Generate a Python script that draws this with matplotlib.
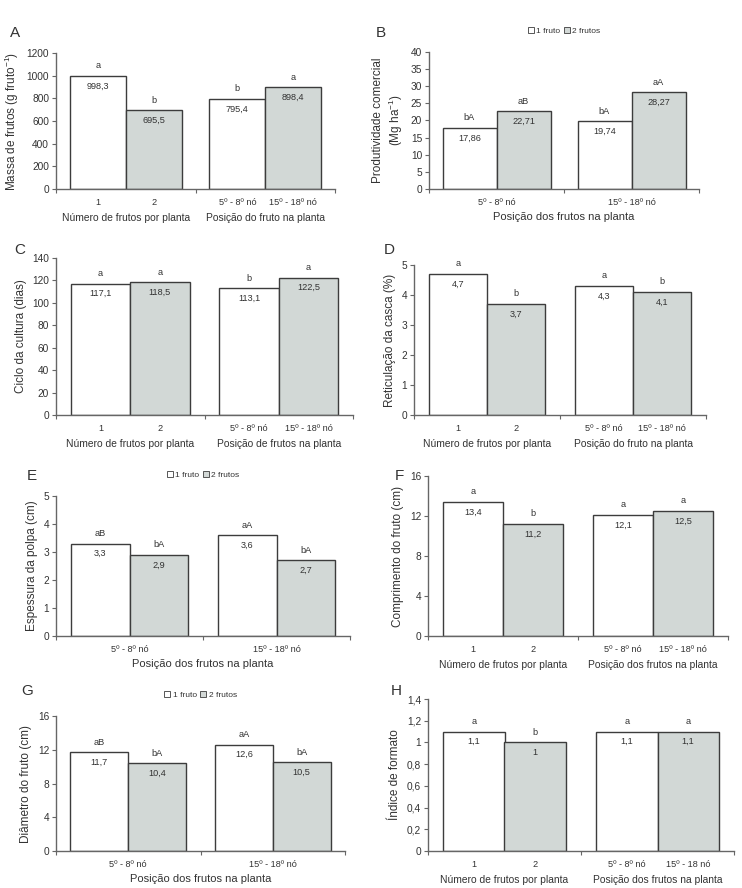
import matplotlib
matplotlib.use("Agg")
import matplotlib.pyplot as plt
from matplotlib.patches import Patch
from matplotlib.ticker import FuncFormatter

plt.rcParams['font.family'] = ['Liberation Sans', 'DejaVu Sans']
plt.rcParams['mathtext.fontset'] = 'custom'
plt.rcParams['mathtext.rm'] = 'Liberation Sans'
plt.rcParams['mathtext.it'] = 'Liberation Sans'

# data: order = group1 white, group1 grey, group2 white, group2 grey
vals_A = [998.3, 695.5, 795.4, 898.4]
lets_A = ['a', 'b', 'b', 'a']
vals_B = [17.86, 22.71, 19.74, 28.27]
lets_B = ['bA', 'aB', 'bA', 'aA']
vals_C = [117.1, 118.5, 113.1, 122.5]
lets_C = ['a', 'a', 'b', 'a']
vals_D = [4.7, 3.7, 4.3, 4.1]
lets_D = ['a', 'b', 'a', 'b']
vals_E = [3.3, 2.9, 3.6, 2.7]
lets_E = ['aB', 'bA', 'aA', 'bA']
vals_F = [13.4, 11.2, 12.1, 12.5]
lets_F = ['a', 'b', 'a', 'a']
vals_G = [11.7, 10.4, 12.6, 10.5]
lets_G = ['aB', 'bA', 'aA', 'bA']
vals_H = [1.1, 1.0, 1.1, 1.1]
lets_H = ['a', 'b', 'a', 'a']

sub_num = ['1', '2']
sub_pos = ['5º - 8º nó', '15º - 18º nó']
sub_pos_H = ['5º - 8º nó', '15º - 18 nó']
legend_labels = ['1 fruto', '2 frutos']

W, H = 742, 888
fig = plt.figure(figsize=(W / 100, H / 100), dpi=100)

TXT = '#333333'
EDGE = '#3c3c3c'
GREY = '#d2d8d6'
SPINE = '#666666'


def fmt(v):
    return f"{v:g}".replace('.', ',')


def make_ax(x0, x1, y0, y1):
    # pixel box -> figure fraction
    return fig.add_axes([x0 / W, 1 - y1 / H, (x1 - x0) / W, (y1 - y0) / H])


def panel(box, vals, lets, ymax, ystep, ylabel, letter, letter_xy,
          subs=None, groups=None, xlabel=None, legend=False):
    ax = make_ax(*box)
    xs = [-0.2, 0.2, 0.8, 1.2]
    cols = ['white', GREY, 'white', GREY]
    ax.bar(xs, vals, width=0.4, color=cols, edgecolor=EDGE, linewidth=1.0)
    for x, v, l in zip(xs, vals, lets):
        ax.annotate(fmt(v), (x, v), xytext=(0, -4), textcoords='offset points',
                    ha='center', va='top', fontsize=6.6, color=TXT)
        ax.annotate(l, (x, v), xytext=(0, 4), textcoords='offset points',
                    ha='center', va='bottom', fontsize=6.6, color=TXT)
    ax.set_xlim(-0.5, 1.5)
    ax.set_ylim(0, ymax)
    ticks = [i * ystep for i in range(int(round(ymax / ystep)) + 1)]
    ax.set_yticks(ticks)
    ax.yaxis.set_major_formatter(FuncFormatter(lambda v, p: fmt(round(v, 6))))
    for s in ['top', 'right']:
        ax.spines[s].set_visible(False)
    for s in ['left', 'bottom']:
        ax.spines[s].set_color(SPINE)
        ax.spines[s].set_linewidth(1.0)
    ax.tick_params(axis='y', direction='out', length=3, width=0.8,
                   color=SPINE, labelsize=7.3, labelcolor=TXT, pad=2)
    ax.set_xticks([])
    ax.set_xticks([-0.5, 0.5, 1.5], minor=True)
    ax.tick_params(axis='x', which='minor', direction='out', length=3,
                   width=0.8, color=SPINE)
    ax.set_ylabel(ylabel, fontsize=8.5, color=TXT, labelpad=4)

    if subs is not None:
        for x, t in zip(xs, subs):
            ax.annotate(t, (x, 0), xycoords=('data', 'axes fraction'),
                        xytext=(0, -9.5), textcoords='offset points',
                        ha='center', va='center', fontsize=6.6, color=TXT)
        for x, t in zip([0, 1], groups):
            ax.annotate(t, (x, 0), xycoords=('data', 'axes fraction'),
                        xytext=(0, -21), textcoords='offset points',
                        ha='center', va='center', fontsize=7.4, color=TXT)
    else:
        for x, t in zip([0, 1], sub_pos):
            ax.annotate(t, (x, 0), xycoords=('data', 'axes fraction'),
                        xytext=(0, -9.5), textcoords='offset points',
                        ha='center', va='center', fontsize=6.6, color=TXT)
        ax.annotate(xlabel, (0.5, 0), xycoords=('data', 'axes fraction'),
                    xytext=(0, -20.5), textcoords='offset points',
                    ha='center', va='center', fontsize=8, color=TXT)

    if legend:
        handles = [Patch(facecolor='white', edgecolor=EDGE, linewidth=0.6),
                   Patch(facecolor=GREY, edgecolor=EDGE, linewidth=0.6)]
        leg = ax.legend(handles, legend_labels, loc='center',
                        bbox_to_anchor=(0.5, 1 + 21 / (box[3] - box[2])),
                        ncol=2, frameon=False,
                        fontsize=6, handlelength=0.7, handleheight=0.7,
                        handletextpad=0.3, columnspacing=0.4, borderaxespad=0)
        for t in leg.get_texts():
            t.set_color(TXT)

    fig.text(letter_xy[0] / W, 1 - letter_xy[1] / H, letter, fontsize=11,
             ha='center', va='center', color=TXT)
    return ax


panel((56, 335, 53, 189), vals_A, lets_A, 1200, 200,
      'Massa de frutos (g fruto$^{-1}$)', 'A', (15, 33),
      subs=sub_num + sub_pos,
      groups=['Número de frutos por planta', 'Posição do fruto na planta'])

panel((429, 699, 52, 189), vals_B, lets_B, 40, 5,
      'Produtividade comercial\n(Mg ha$^{-1}$)', 'B', (381, 33),
      xlabel='Posição dos frutos na planta', legend=True)

panel((56, 353, 258, 415), vals_C, lets_C, 140, 20,
      'Ciclo da cultura (dias)', 'C', (20, 250),
      subs=sub_num + sub_pos,
      groups=['Número de frutos por planta', 'Posição de frutos na planta'])

panel((414, 706, 265, 415), vals_D, lets_D, 5, 1,
      'Reticulação da casca (%)', 'D', (389, 250),
      subs=sub_num + sub_pos,
      groups=['Número de frutos por planta', 'Posição do fruto na planta'])

panel((56, 350, 496, 636), vals_E, lets_E, 5, 1,
      'Espessura da polpa (cm)', 'E', (32, 476),
      xlabel='Posição dos frutos na planta', legend=True)

panel((428, 728, 476, 636), vals_F, lets_F, 16, 4,
      'Comprimento do fruto (cm)', 'F', (399, 476),
      subs=sub_num + sub_pos,
      groups=['Número de frutos por planta', 'Posição dos frutos na planta'])

panel((56, 345, 716, 851), vals_G, lets_G, 16, 4,
      'Diâmetro do fruto (cm)', 'G', (27, 691),
      xlabel='Posição dos frutos na planta', legend=True)

panel((428, 734, 699, 851), vals_H, lets_H, 1.4, 0.2,
      'Índice de formato', 'H', (396, 691),
      subs=sub_num + sub_pos_H,
      groups=['Número de frutos por planta', 'Posição dos frutos na planta'])

fig.savefig('out.png', dpi=100)
